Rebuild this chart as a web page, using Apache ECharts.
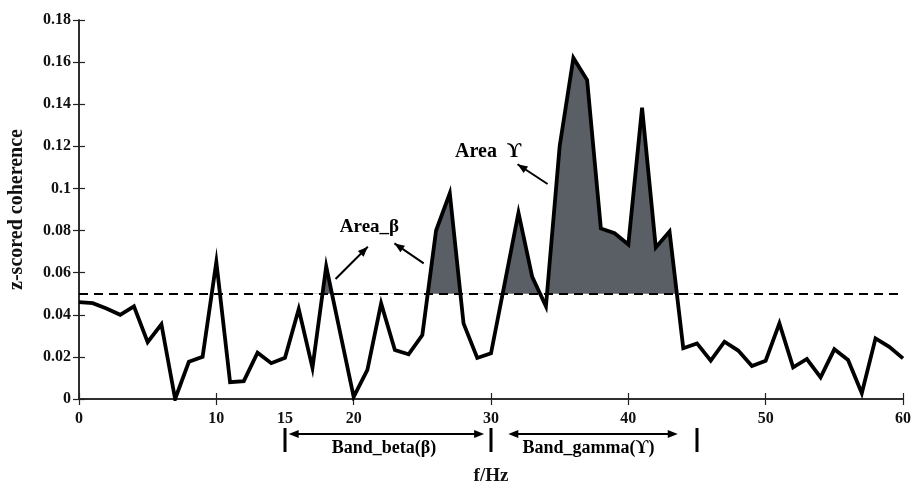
<!DOCTYPE html>
<html>
<head>
<meta charset="utf-8">
<script src="https://cdn.jsdelivr.net/npm/echarts@6/dist/echarts.min.js"></script>
<style>
html,body{margin:0;padding:0;background:#fff;}
#chart{width:913px;height:484px;}
</style>
</head>
<body>
<div id="chart"></div>
<script>
// ---- data ----
const freqs = [0,1,2,3,4,5,6,7,8,9,10,11,12,13,14,15,16,17,18,19,20,21,22,23,24,25,26,27,28,29,30,31,32,33,34,35,36,37,38,39,40,41,42,43,44,45,46,47,48,49,50,51,52,53,54,55,56,57,58,59,60];
const coherence = [0.046,0.0455,0.043,0.040,0.044,0.027,0.0355,0.000,0.0177,0.020,
  0.065,0.008,0.0085,0.022,0.017,0.0196,0.0427,0.0148,0.063,0.032,
  0.001,0.0138,0.0454,0.0233,0.0212,0.0304,0.080,0.0977,0.0359,0.0195,
  0.0217,0.055,0.0885,0.058,0.044,0.120,0.162,0.1515,0.081,0.0787,
  0.0734,0.1383,0.072,0.0795,0.0241,0.0264,0.0182,0.0272,0.023,0.0157,
  0.0182,0.0359,0.015,0.019,0.0103,0.0236,0.0185,0.0027,0.0288,0.0248,0.0193];
const threshold = 0.05;
const xLabelValues = [0,10,15,20,30,40,50,60];
const bandBeta = [15,30];
const bandGamma = [30,45];
const bandBetaLabel = 'Band_beta(β)';
const bandGammaLabel = 'Band_gamma(ϒ)';
const areaBetaLabel = 'Area_β';
const areaGammaLabel = 'Area  ϒ';

// annotation anchors (data units)
const annoBetaText = [21.15, 0.0817];
const annoGammaText = [29.8, 0.1173];
const annoArrows = [
  [[18.68, 0.0570], [21.03, 0.0723]],
  [[25.1, 0.0644], [22.97, 0.0739]],
  [[34.12, 0.1021], [31.93, 0.1115]]
];
const bandArrows = [[15.27, 29.5], [31.26, 43.6]];
const bandLabelX = [22.2, 37.1];

const FONT = '"Liberation Serif","Times New Roman",serif';
const FILL = '#5a5f65';
const allPts = freqs.map((f, i) => [f, coherence[i]]);
const bandPts = allPts.filter(p => p[0] >= bandBeta[0] && p[0] <= bandGamma[1]);

const chart = echarts.init(document.getElementById('chart'));
const axisLine = {show: true, lineStyle: {color: '#222', width: 1.5}};
const tick = {show: true, inside: true, length: 6, lineStyle: {color: '#222', width: 1.2}};
chart.setOption({
  animation: false,
  backgroundColor: '#fff',
  grid: {left: 79, right: 10, top: 20, bottom: 85, containLabel: false, outerBoundsMode: 'none'},
  xAxis: [{
    type: 'value', min: 0, max: 60, interval: 10,
    axisLine: axisLine, axisTick: tick,
    axisLabel: {customValues: xLabelValues, color: '#111', fontFamily: FONT, fontWeight: 'bold', fontSize: 16, margin: 12},
    splitLine: {show: false},
    name: 'f/Hz', nameLocation: 'middle', nameGap: 68,
    nameTextStyle: {color: '#111', fontFamily: FONT, fontWeight: 'bold', fontSize: 19}
  }, {
    type: 'value', min: 0, max: 60, interval: 10, position: 'top',
    axisLine: axisLine, axisTick: tick,
    axisLabel: {show: false}, splitLine: {show: false}
  }],
  yAxis: [{
    type: 'value', min: 0, max: 0.18, interval: 0.02,
    axisLine: axisLine, axisTick: tick,
    axisLabel: {color: '#111', fontFamily: FONT, fontWeight: 'bold', fontSize: 16, margin: 8},
    splitLine: {show: false},
    name: 'z-scored coherence', nameLocation: 'middle', nameGap: 52,
    nameTextStyle: {color: '#111', fontFamily: FONT, fontWeight: 'bold', fontSize: 20}
  }, {
    type: 'value', min: 0, max: 0.18, interval: 0.02, position: 'right',
    axisLine: axisLine, axisTick: tick,
    axisLabel: {show: false}, splitLine: {show: false}
  }],
  series: [{
    name: 'fill', type: 'line', data: bandPts, showSymbol: false, symbol: 'none',
    lineStyle: {width: 0, opacity: 0},
    areaStyle: {opacity: 1, origin: threshold, color: FILL},
    z: 1, silent: true
  }, {
    name: 'coherence', type: 'line', data: allPts, showSymbol: false, symbol: 'none',
    lineStyle: {color: '#000', width: 3.8, join: 'miter'},
    z: 3, silent: true,
    markLine: {
      silent: true, symbol: 'none', animation: false,
      label: {show: false},
      lineStyle: {color: '#000', width: 2, type: [9, 6]},
      data: [{yAxis: threshold}]
    }
  }]
});

function px(p) { return chart.convertToPixel({xAxisIndex: 0, yAxisIndex: 0}, p); }

// fill only above the threshold: global gradient with a hard stop at the threshold pixel
const H = chart.getHeight();
const thrY = px([0, threshold])[1];
const off = thrY / H;
chart.setOption({series: [{
  areaStyle: {opacity: 1, origin: threshold, color: new echarts.graphic.LinearGradient(0, 0, 0, H, [
    {offset: 0, color: FILL},
    {offset: off, color: FILL},
    {offset: off, color: 'rgba(255,255,255,0)'},
    {offset: 1, color: 'rgba(255,255,255,0)'}
  ], true)}
}]});

// annotations positioned through the axes
function arrowHead(tip, from, len, half) {
  const dx = tip[0] - from[0], dy = tip[1] - from[1];
  const d = Math.sqrt(dx * dx + dy * dy);
  const ux = dx / d, uy = dy / d;
  const bx = tip[0] - ux * len, by = tip[1] - uy * len;
  return {type: 'polygon', shape: {points: [tip, [bx - uy * half, by + ux * half], [bx + uy * half, by - ux * half]]}, style: {fill: '#000'}, z: 10};
}
function arrow(a, b) {
  const pa = px(a), pb = px(b);
  return [
    {type: 'line', shape: {x1: pa[0], y1: pa[1], x2: pb[0], y2: pb[1]}, style: {stroke: '#000', lineWidth: 2}, z: 10},
    arrowHead(pb, pa, 10, 4)
  ];
}
const g = [];
annoArrows.forEach(a => g.push(...arrow(a[0], a[1])));
const tb = px(annoBetaText), tg = px(annoGammaText);
const textEl = (t, p, size) => ({type: 'text', x: p[0], y: p[1], z: 10, style: {text: t, fill: '#000', font: 'bold ' + size + 'px ' + FONT, align: 'center', verticalAlign: 'middle'}});
g.push(textEl(areaBetaLabel, tb, 19));
g.push(textEl(areaGammaLabel, tg, 20));

// band brackets below the axis
const y0 = px([0, 0])[1];
const barTop = y0 + 29, barBot = y0 + 53, arrowY = y0 + 35, bandTextY = y0 + 49;
[bandBeta[0], bandBeta[1], bandGamma[1]].forEach(f => {
  const x = px([f, 0])[0];
  g.push({type: 'line', shape: {x1: x, y1: barTop, x2: x, y2: barBot}, style: {stroke: '#000', lineWidth: 3}, z: 10});
});
bandArrows.forEach(b => {
  const xa = px([b[0], 0])[0], xb = px([b[1], 0])[0];
  g.push({type: 'line', shape: {x1: xa + 6, y1: arrowY, x2: xb - 6, y2: arrowY}, style: {stroke: '#000', lineWidth: 2}, z: 10});
  g.push(arrowHead([xa, arrowY], [xb, arrowY], 10, 4));
  g.push(arrowHead([xb, arrowY], [xa, arrowY], 10, 4));
});
g.push(textEl(bandBetaLabel, [px([bandLabelX[0], 0])[0], bandTextY], 18));
g.push(textEl(bandGammaLabel, [px([bandLabelX[1], 0])[0], bandTextY], 18));
chart.setOption({graphic: g});
</script>
</body>
</html>
